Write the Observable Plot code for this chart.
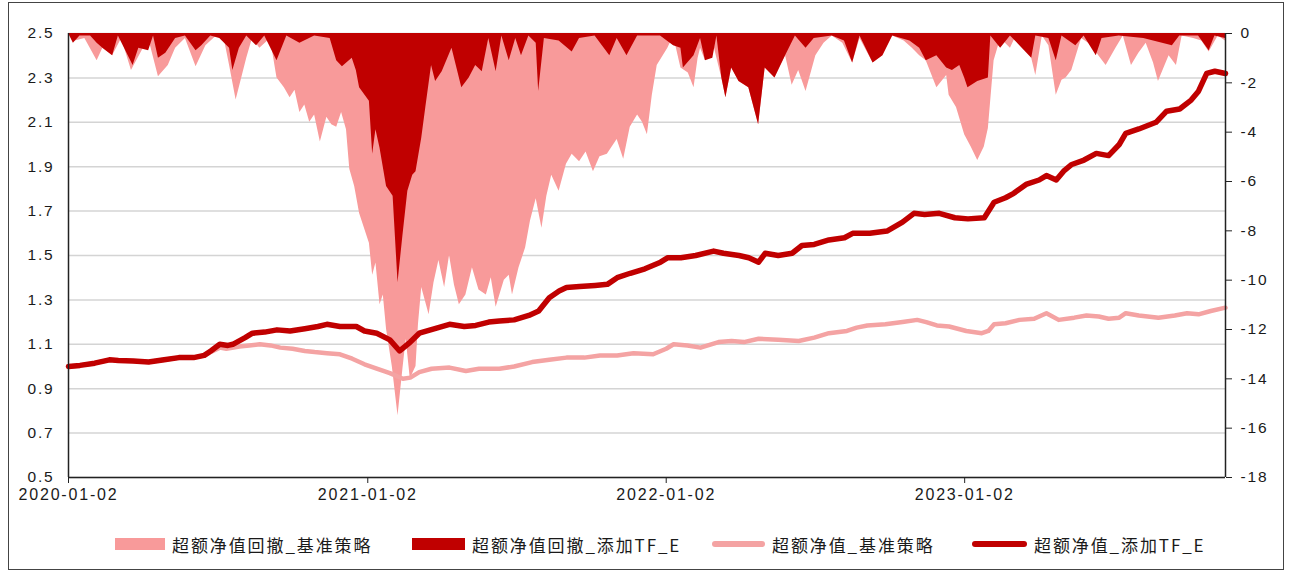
<!DOCTYPE html>
<html><head><meta charset="utf-8">
<script src="https://cdn.jsdelivr.net/npm/d3@7"></script>
<script src="https://cdn.jsdelivr.net/npm/@observablehq/plot@0.6"></script>
<style>
body{margin:0;background:#fff;font-family:"Liberation Sans",Arial,"Noto Sans CJK SC",sans-serif;}
#wrap{position:relative;width:1293px;height:573px;overflow:hidden;}
#frame{position:absolute;left:8px;top:2px;width:1274px;height:566px;border:1.5px solid #444;pointer-events:none;}
#legend{position:absolute;left:0;top:529px;width:1293px;height:30px;font-family:"Noto Sans CJK SC","Liberation Sans",sans-serif;font-size:17px;letter-spacing:1.9px;color:#1a1a1a;}
.item{position:absolute;top:0;height:30px;display:flex;align-items:center;white-space:nowrap;}
.sw{display:inline-block;margin-right:7px;}
#chart svg text{letter-spacing:1.8px;}
</style></head>
<body><div id="wrap"><div id="chart"></div><div id="legend"></div><div id="frame"></div></div>
<script>
// ---- data ----
const seriesNames = ["超额净值回撤_基准策略","超额净值回撤_添加TF_E","超额净值_基准策略","超额净值_添加TF_E"];
const leftTicks = [0.5,0.7,0.9,1.1,1.3,1.5,1.7,1.9,2.1,2.3,2.5];
const rightTicks = [0,-2,-4,-6,-8,-10,-12,-14,-16,-18];
const xTickLabels = ["2020-01-02","2021-01-02","2022-01-02","2023-01-02"];
const xRange = ["2020-01-02","2023-11-17"];

// drawdown of excess NAV, base strategy (%)
const ddBase = [
["2020-01-02",0],["2020-01-10",-0.3],["2020-01-22",-0.2],["2020-02-06",-1.1],["2020-02-13",-0.6],["2020-02-25",-0.9],
["2020-03-07",-0.2],["2020-03-19",-1.5],["2020-04-01",-0.7],["2020-04-09",-0.2],["2020-04-21",-1.75],["2020-05-03",-1.3],
["2020-05-12",-0.6],["2020-05-24",-0.2],["2020-06-06",-1.35],["2020-06-18",-0.5],["2020-07-01",-0.1],["2020-07-11",-0.3],
["2020-07-17",-1.3],["2020-07-25",-2.7],["2020-08-07",-1.0],["2020-08-14",-0.2],["2020-08-23",-0.6],["2020-09-05",-0.2],
["2020-09-13",-1.8],["2020-09-22",-2.2],["2020-09-29",-2.6],["2020-10-05",-2.3],["2020-10-11",-3.2],["2020-10-17",-2.9],
["2020-10-23",-3.6],["2020-10-29",-3.3],["2020-11-05",-4.4],["2020-11-13",-3.4],["2020-11-19",-3.7],["2020-11-25",-3.8],
["2020-12-01",-3.2],["2020-12-07",-3.9],["2020-12-11",-5.5],["2020-12-17",-6.2],["2020-12-23",-7.3],["2021-01-04",-8.5],
["2021-01-08",-9.8],["2021-01-12",-9.3],["2021-01-17",-11.0],["2021-01-21",-10.6],["2021-01-25",-12.0],["2021-02-01",-13.5],
["2021-02-08",-15.5],["2021-02-14",-13.6],["2021-02-18",-12.4],["2021-02-23",-14.0],["2021-03-02",-13.5],["2021-03-05",-11.8],
["2021-03-09",-10.3],["2021-03-18",-11.4],["2021-03-24",-10.1],["2021-03-30",-9.2],["2021-04-06",-10.3],["2021-04-12",-9.0],
["2021-04-18",-10.2],["2021-04-24",-11.0],["2021-05-02",-10.6],["2021-05-10",-9.5],["2021-05-18",-10.4],["2021-05-27",-10.6],
["2021-06-02",-9.9],["2021-06-08",-11.1],["2021-06-18",-10.0],["2021-06-24",-9.8],["2021-06-28",-10.6],["2021-07-06",-9.5],
["2021-07-14",-8.7],["2021-07-20",-7.6],["2021-07-27",-6.7],["2021-08-03",-7.9],["2021-08-09",-6.6],["2021-08-15",-5.75],
["2021-08-24",-6.4],["2021-09-02",-5.3],["2021-09-09",-4.9],["2021-09-18",-5.2],["2021-09-26",-4.8],["2021-10-05",-5.6],
["2021-10-13",-5.0],["2021-10-22",-4.9],["2021-11-03",-4.3],["2021-11-11",-5.1],["2021-11-19",-3.8],["2021-11-28",-3.3],
["2021-12-04",-3.6],["2021-12-10",-4.1],["2021-12-16",-2.5],["2021-12-22",-1.3],["2022-01-04",-0.6],["2022-01-11",-0.1],
["2022-01-20",-1.4],["2022-01-29",-1.6],["2022-02-05",-2.2],["2022-02-10",-1.0],["2022-02-13",-0.6],["2022-02-19",-1.1],
["2022-02-28",-0.3],["2022-03-05",-1.0],["2022-03-11",-1.8],["2022-03-16",-2.6],["2022-03-23",-1.4],["2022-04-01",-1.95],
["2022-04-13",-2.2],["2022-04-25",-3.7],["2022-05-03",-1.4],["2022-05-15",-1.8],["2022-05-28",-0.9],["2022-06-05",-2.1],
["2022-06-13",-1.5],["2022-06-22",-2.35],["2022-07-04",-0.9],["2022-07-14",-0.4],["2022-07-24",-0.1],["2022-08-06",-0.4],
["2022-08-18",-1.2],["2022-08-27",-0.2],["2022-09-12",-1.2],["2022-09-24",-0.9],["2022-10-06",-0.1],["2022-10-20",-0.3],
["2022-10-30",-0.6],["2022-11-08",-0.9],["2022-11-16",-1.1],["2022-11-29",-2.2],["2022-12-11",-1.7],["2022-12-14",-2.5],
["2022-12-23",-3.0],["2023-01-02",-4.1],["2023-01-10",-4.6],["2023-01-18",-5.15],["2023-01-26",-4.6],["2023-01-31",-3.85],
["2023-02-07",-1.1],["2023-02-15",-0.2],["2023-02-27",-0.6],["2023-03-06",-0.1],["2023-03-15",-0.3],["2023-03-25",-1.0],
["2023-03-30",-1.7],["2023-04-07",-0.1],["2023-04-15",-0.5],["2023-04-24",-2.5],["2023-05-01",-1.9],["2023-05-06",-1.8],
["2023-05-13",-1.5],["2023-05-25",-0.2],["2023-06-07",-0.5],["2023-06-15",-0.9],["2023-06-24",-1.3],["2023-07-06",-0.6],
["2023-07-15",-0.1],["2023-07-25",-1.3],["2023-08-03",-0.8],["2023-08-12",-0.4],["2023-08-21",-1.2],["2023-08-27",-1.95],
["2023-09-09",-0.9],["2023-09-18",-1.3],["2023-09-25",-0.1],["2023-10-09",-0.2],["2023-10-19",-0.3],["2023-10-28",-0.75],
["2023-11-08",-0.1],["2023-11-17",-0.3]
];

// drawdown of excess NAV, with TF_E (%)
const ddTFE = [
["2020-01-02",0],["2020-01-08",-0.4],["2020-01-16",-0.1],["2020-01-29",-0.1],["2020-02-06",-0.4],["2020-02-13",-0.6],
["2020-02-25",-0.9],["2020-03-03",-0.1],["2020-03-12",-0.7],["2020-03-21",-1.3],["2020-03-28",-0.6],["2020-04-09",-0.7],
["2020-04-15",-0.1],["2020-04-21",-1.0],["2020-04-30",-0.8],["2020-05-12",-0.2],["2020-05-24",-0.1],["2020-06-06",-0.7],
["2020-06-13",-0.5],["2020-06-24",-0.1],["2020-07-05",-0.2],["2020-07-17",-0.6],["2020-07-21",-1.5],["2020-07-29",-0.6],
["2020-08-07",-0.1],["2020-08-19",-0.5],["2020-08-29",-0.1],["2020-09-13",-1.1],["2020-09-25",-0.1],["2020-10-11",-0.4],
["2020-10-29",-0.1],["2020-11-17",-0.2],["2020-11-25",-1.1],["2020-12-02",-1.35],["2020-12-14",-1.0],["2020-12-19",-1.5],
["2020-12-23",-2.2],["2021-01-04",-2.75],["2021-01-08",-4.9],["2021-01-12",-3.9],["2021-01-17",-4.65],["2021-01-25",-6.2],
["2021-02-02",-6.6],["2021-02-08",-10.1],["2021-02-14",-8.2],["2021-02-20",-6.4],["2021-02-26",-5.75],["2021-03-02",-5.6],
["2021-03-09",-4.25],["2021-03-14",-3.0],["2021-03-21",-1.3],["2021-03-26",-1.95],["2021-04-03",-1.55],["2021-04-15",-0.6],
["2021-04-27",-2.2],["2021-05-06",-1.8],["2021-05-14",-1.3],["2021-05-22",-1.55],["2021-05-30",-0.2],["2021-06-08",-1.55],
["2021-06-15",-0.1],["2021-06-24",-1.1],["2021-07-02",-0.2],["2021-07-09",-0.9],["2021-07-18",-0.1],["2021-07-27",-0.4],
["2021-07-30",-2.35],["2021-08-06",-0.2],["2021-08-24",-0.3],["2021-09-09",-0.75],["2021-09-18",-0.2],["2021-10-07",-0.1],
["2021-10-25",-0.9],["2021-11-03",-0.2],["2021-11-15",-0.9],["2021-11-28",-0.1],["2021-12-26",-0.1],["2022-01-11",-0.5],
["2022-01-20",-0.6],["2022-01-23",-1.4],["2022-02-05",-0.9],["2022-02-13",-0.2],["2022-02-19",-1.1],["2022-02-28",-1.0],
["2022-03-05",-0.1],["2022-03-11",-1.8],["2022-03-16",-2.6],["2022-03-23",-1.4],["2022-04-01",-1.95],["2022-04-13",-2.2],
["2022-04-25",-3.7],["2022-05-03",-1.4],["2022-05-15",-1.8],["2022-05-28",-0.9],["2022-06-09",-0.1],["2022-06-22",-0.6],
["2022-07-02",-0.2],["2022-07-24",-0.1],["2022-08-08",-0.3],["2022-08-18",-1.2],["2022-08-27",-0.1],["2022-09-12",-1.2],
["2022-09-24",-0.9],["2022-10-06",-0.1],["2022-10-27",-0.3],["2022-11-08",-0.6],["2022-11-16",-1.1],["2022-11-29",-0.9],
["2022-12-11",-1.4],["2022-12-18",-1.5],["2022-12-27",-1.3],["2023-01-02",-1.8],["2023-01-06",-2.2],["2023-01-18",-1.95],
["2023-01-31",-1.8],["2023-02-03",-0.1],["2023-02-15",-0.6],["2023-02-27",-0.1],["2023-03-25",-1.0],["2023-03-30",-0.1],
["2023-04-15",-0.2],["2023-04-24",-1.1],["2023-05-01",-0.1],["2023-05-18",-0.5],["2023-05-28",-0.1],["2023-06-12",-0.9],
["2023-06-19",-0.2],["2023-07-10",-0.1],["2023-08-09",-0.2],["2023-09-13",-0.5],["2023-09-22",-0.1],["2023-10-15",-0.1],
["2023-10-28",-0.7],["2023-11-04",-0.1],["2023-11-17",-0.2]
];

// excess NAV, base strategy
const navBase = [
["2020-01-02",1.00],["2020-01-16",1.005],["2020-02-03",1.015],["2020-02-21",1.03],["2020-03-03",1.027],["2020-03-21",1.025],
["2020-04-09",1.02],["2020-04-28",1.03],["2020-05-16",1.04],["2020-06-03",1.04],["2020-06-16",1.05],["2020-06-24",1.065],
["2020-07-05",1.085],["2020-07-13",1.08],["2020-07-29",1.09],["2020-08-10",1.095],["2020-08-23",1.10],["2020-09-05",1.095],
["2020-09-17",1.085],["2020-10-02",1.08],["2020-10-17",1.07],["2020-10-29",1.065],["2020-11-13",1.06],["2020-11-29",1.055],
["2020-12-14",1.035],["2020-12-29",1.01],["2021-01-13",0.99],["2021-01-29",0.97],["2021-02-14",0.945],["2021-02-23",0.95],
["2021-03-06",0.975],["2021-03-21",0.99],["2021-04-12",0.995],["2021-05-02",0.98],["2021-05-18",0.99],["2021-06-12",0.99],
["2021-06-30",1.00],["2021-07-22",1.02],["2021-08-12",1.03],["2021-09-02",1.04],["2021-09-24",1.04],["2021-10-13",1.05],
["2021-11-03",1.05],["2021-11-23",1.06],["2021-12-17",1.055],["2022-01-02",1.08],["2022-01-11",1.10],["2022-01-28",1.095],
["2022-02-13",1.085],["2022-03-07",1.11],["2022-03-23",1.115],["2022-04-07",1.11],["2022-04-25",1.125],["2022-05-19",1.12],
["2022-06-13",1.115],["2022-07-02",1.13],["2022-07-20",1.15],["2022-08-11",1.16],["2022-08-23",1.175],["2022-09-05",1.185],
["2022-09-27",1.19],["2022-10-18",1.20],["2022-11-05",1.21],["2022-11-16",1.20],["2022-11-29",1.185],["2022-12-14",1.18],
["2023-01-04",1.16],["2023-01-23",1.15],["2023-01-31",1.16],["2023-02-07",1.19],["2023-02-21",1.195],["2023-03-10",1.21],
["2023-03-28",1.215],["2023-04-12",1.24],["2023-04-27",1.21],["2023-05-16",1.22],["2023-05-31",1.23],["2023-06-15",1.225],
["2023-06-27",1.215],["2023-07-10",1.22],["2023-07-18",1.24],["2023-08-03",1.23],["2023-08-27",1.22],["2023-09-16",1.23],
["2023-10-01",1.24],["2023-10-15",1.235],["2023-10-30",1.25],["2023-11-17",1.265]
];

// excess NAV, with TF_E
const navTFE = [
["2020-01-02",1.00],["2020-01-16",1.005],["2020-02-03",1.015],["2020-02-21",1.03],["2020-03-03",1.027],["2020-03-21",1.025],
["2020-04-09",1.02],["2020-04-28",1.03],["2020-05-16",1.04],["2020-06-03",1.04],["2020-06-16",1.05],["2020-06-24",1.07],
["2020-07-05",1.10],["2020-07-15",1.095],["2020-07-21",1.10],["2020-08-05",1.13],["2020-08-14",1.15],["2020-08-29",1.155],
["2020-09-13",1.165],["2020-09-29",1.16],["2020-10-17",1.17],["2020-11-02",1.18],["2020-11-13",1.19],["2020-11-29",1.18],
["2020-12-19",1.18],["2020-12-29",1.16],["2021-01-13",1.15],["2021-01-29",1.12],["2021-02-10",1.07],["2021-02-23",1.11],
["2021-03-06",1.15],["2021-03-24",1.17],["2021-04-12",1.19],["2021-04-30",1.18],["2021-05-14",1.185],["2021-05-30",1.20],
["2021-06-12",1.205],["2021-06-30",1.21],["2021-07-18",1.23],["2021-07-30",1.25],["2021-08-12",1.31],["2021-08-24",1.34],
["2021-09-02",1.356],["2021-09-18",1.36],["2021-10-07",1.365],["2021-10-22",1.37],["2021-11-03",1.40],["2021-11-19",1.42],
["2021-12-07",1.44],["2021-12-26",1.47],["2022-01-04",1.49],["2022-01-20",1.49],["2022-02-07",1.50],["2022-03-01",1.52],
["2022-03-13",1.51],["2022-04-01",1.50],["2022-04-13",1.49],["2022-04-25",1.47],["2022-05-03",1.51],["2022-05-19",1.50],
["2022-06-05",1.51],["2022-06-17",1.545],["2022-07-02",1.55],["2022-07-20",1.57],["2022-08-08",1.58],["2022-08-18",1.60],
["2022-09-08",1.60],["2022-09-29",1.61],["2022-10-18",1.65],["2022-11-01",1.69],["2022-11-14",1.685],["2022-12-02",1.69],
["2022-12-21",1.67],["2023-01-06",1.665],["2023-01-26",1.67],["2023-02-07",1.74],["2023-02-21",1.76],["2023-03-03",1.78],
["2023-03-18",1.82],["2023-04-03",1.84],["2023-04-12",1.86],["2023-04-24",1.84],["2023-05-03",1.88],["2023-05-13",1.91],
["2023-05-28",1.93],["2023-06-12",1.96],["2023-06-27",1.95],["2023-07-10",2.00],["2023-07-18",2.05],["2023-08-03",2.07],
["2023-08-24",2.10],["2023-09-06",2.15],["2023-09-22",2.16],["2023-10-06",2.20],["2023-10-15",2.24],["2023-10-25",2.32],
["2023-11-04",2.33],["2023-11-17",2.32]
];

const colors = ["#F89A9A","#C00000","#F4A3A3","#C00000"];

// ---- build ----
const parse = d3.utcParse("%Y-%m-%d");
const toObj = arr => arr.map(([d,v]) => ({date: parse(d), v}));
// right axis (0..-18) mapped onto left axis (2.5..0.5)
const yMin = leftTicks[0], yMax = leftTicks[leftTicks.length-1];
const rMin = rightTicks[rightTicks.length-1], rMax = rightTicks[0];
const r2l = r => yMin + (r - rMin) * (yMax - yMin) / (rMax - rMin);
const l2r = l => rMin + (l - yMin) * (rMax - rMin) / (yMax - yMin);

const dB = toObj(ddBase), dT = toObj(ddTFE), nB = toObj(navBase), nT = toObj(navTFE);
const x0 = parse(xRange[0]), x1 = parse(xRange[1]);
const xTicks = xTickLabels.map(parse);
const tickStyle = {fill: "#1a1a1a", label: null};

const chart = Plot.plot({
  width: 1293, height: 515,
  marginLeft: 68, marginRight: 68, marginTop: 33, marginBottom: 38,
  style: {fontFamily: '"Liberation Sans", Arial, sans-serif', fontSize: "16px", color: "#1a1a1a", background: "transparent"},
  x: {type: "utc", domain: [x0, x1]},
  y: {domain: [yMin, yMax]},
  marks: [
    Plot.gridY(leftTicks, {stroke: "#d4d4d4", strokeOpacity: 1, strokeWidth: 1.5}),
    Plot.areaY(dB, {x: "date", y1: r2l(0), y2: d => r2l(d.v), fill: colors[0], fillOpacity: 1}),
    Plot.areaY(dT, {x: "date", y1: r2l(0), y2: d => r2l(d.v), fill: colors[1], fillOpacity: 1}),
    Plot.lineY(nB, {x: "date", y: "v", stroke: colors[2], strokeWidth: 4.5}),
    Plot.lineY(nT, {x: "date", y: "v", stroke: colors[3], strokeWidth: 5.5}),
    Plot.ruleX([x0], {stroke: "#222", strokeWidth: 1.5}),
    Plot.ruleX([x1], {stroke: "#222", strokeWidth: 1.5}),
    Plot.ruleY([yMin], {stroke: "#222", strokeWidth: 1.5}),
    Plot.axisY(leftTicks, {anchor: "left", tickSize: 0, tickPadding: 14, fontSize: 15.5, tickFormat: d3.format(".1f"), ...tickStyle}),
    Plot.axisY(rightTicks.map(r2l), {anchor: "right", tickSize: 6, tickPadding: 9, fontSize: 15.5, tickFormat: v => String(Math.round(l2r(v))), stroke: "#222", ...tickStyle}),
    Plot.axisX(xTicks, {anchor: "bottom", tickSize: 6, tickPadding: 5, fontSize: 16, tickFormat: d3.utcFormat("%Y-%m-%d"), stroke: "#222", ...tickStyle})
  ]
});
document.getElementById("chart").appendChild(chart);

// ---- legend ----
const legendPos = [
  {left: 115, sw: {w: 50, h: 12, r: 0}},
  {left: 412, sw: {w: 53, h: 12, r: 0}},
  {left: 712, sw: {w: 53, h: 6, r: 3}},
  {left: 972, sw: {w: 55, h: 6, r: 3}}
];
const lg = document.getElementById("legend");
seriesNames.forEach((name, i) => {
  const it = document.createElement("div");
  it.className = "item";
  it.style.left = legendPos[i].left + "px";
  const sw = document.createElement("span");
  sw.className = "sw";
  sw.style.width = legendPos[i].sw.w + "px";
  sw.style.height = legendPos[i].sw.h + "px";
  sw.style.borderRadius = legendPos[i].sw.r + "px";
  sw.style.background = colors[i];
  it.appendChild(sw);
  const t = document.createElement("span");
  t.textContent = name;
  it.appendChild(t);
  lg.appendChild(it);
});
</script>
</body></html>
